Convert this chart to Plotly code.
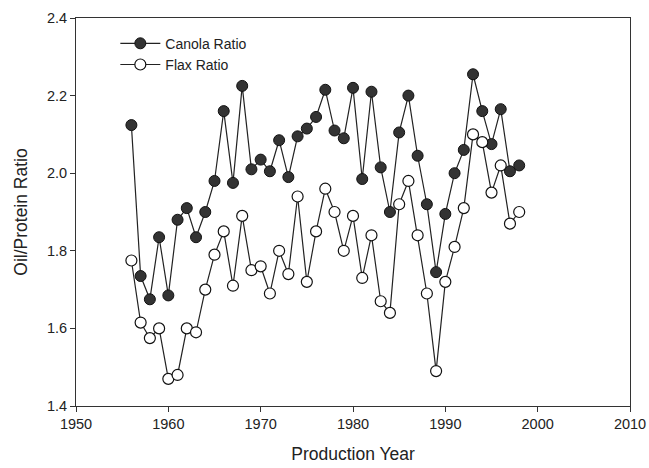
import plotly.graph_objects as go

years = list(range(1956, 1999))
canola = [2.124, 1.735, 1.675, 1.835, 1.685, 1.88, 1.91, 1.835, 1.90, 1.98,
          2.16, 1.975, 2.225, 2.01, 2.035, 2.005, 2.085, 1.99, 2.095, 2.115,
          2.145, 2.215, 2.11, 2.09, 2.22, 1.985, 2.21, 2.015, 1.90, 2.105,
          2.20, 2.045, 1.92, 1.745, 1.895, 2.00, 2.06, 2.255, 2.16, 2.075,
          2.165, 2.005, 2.02]
flax = [1.775, 1.615, 1.575, 1.60, 1.47, 1.48, 1.60, 1.59, 1.70, 1.79,
        1.85, 1.71, 1.89, 1.75, 1.76, 1.69, 1.80, 1.74, 1.94, 1.72,
        1.85, 1.96, 1.90, 1.80, 1.89, 1.73, 1.84, 1.67, 1.64, 1.92,
        1.98, 1.84, 1.69, 1.49, 1.72, 1.81, 1.91, 2.10, 2.08, 1.95,
        2.02, 1.87, 1.90]

fig = go.Figure()
fig.add_trace(go.Scatter(x=years, y=canola, mode="lines+markers", name="Canola Ratio",
                         line=dict(color="#222", width=1.2),
                         marker=dict(size=11, color="#333", line=dict(color="#111", width=1))))
fig.add_trace(go.Scatter(x=years, y=flax, mode="lines+markers", name="Flax Ratio",
                         line=dict(color="#222", width=1.2),
                         marker=dict(size=11, color="white", line=dict(color="#111", width=1.2))))

axis_common = dict(showline=True, linecolor="#333", linewidth=1, mirror=True, automargin=False,
                   ticks="outside", ticklen=5, tickcolor="#333", showgrid=False, zeroline=False,
                   tickfont=dict(family="Liberation Sans, Arial", size=14.5, color="#222"))
fig.update_layout(
    width=649, height=468,
    margin=dict(l=76, r=19, t=18, b=62),
    paper_bgcolor="white", plot_bgcolor="white",
    font=dict(family="Liberation Sans, Arial", color="#222"),
    xaxis=dict(range=[1950, 2010], dtick=10, title=dict(text="Production Year", font=dict(size=17.5), standoff=16), **axis_common),
    yaxis=dict(range=[1.4, 2.4], dtick=0.2, tickformat=".1f", title=dict(text="Oil/Protein Ratio", font=dict(size=17.5), standoff=14), **axis_common),
    legend=dict(x=0.071, y=0.975, xanchor="left", yanchor="top", bgcolor="rgba(0,0,0,0)",
                font=dict(size=14), itemwidth=40, tracegroupgap=0),
    showlegend=True,
)
fig.write_html("out.html", config={"displayModeBar": False},
               post_script="document.body.style.margin='0';")
